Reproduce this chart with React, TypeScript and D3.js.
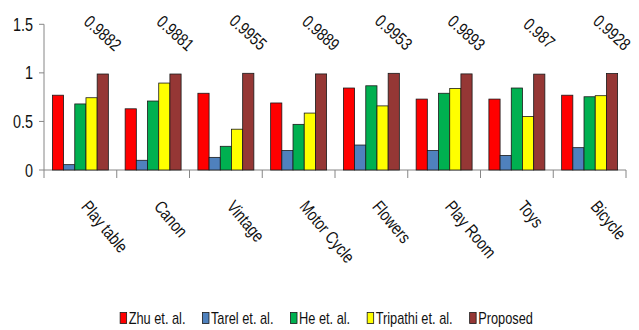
import React, { useEffect, useRef } from "react";
import * as d3 from "d3";

const categories = ["Play table", "Canon", "Vintage", "Motor Cycle", "Flowers", "Play Room", "Toys", "Bicycle"];
const seriesNames = ["Zhu et. al.", "Tarel et. al.", "He et. al.", "Tripathi et. al.", "Proposed"];
const seriesColors = ["#FF0000", "#4F81BD", "#00B050", "#FFFF00", "#953735"];

const zhu = [0.77, 0.63, 0.79, 0.69, 0.844, 0.73, 0.73, 0.77];
const tarel = [0.055, 0.1, 0.13, 0.2, 0.257, 0.2, 0.15, 0.23];
const he = [0.68, 0.71, 0.244, 0.47, 0.867, 0.79, 0.844, 0.754];
const tripathi = [0.744, 0.895, 0.42, 0.586, 0.66, 0.84, 0.55, 0.765];
const proposed = [0.9882, 0.9881, 0.9955, 0.9889, 0.9953, 0.9893, 0.987, 0.9928];

const yTicks = [0, 0.5, 1, 1.5];
const yTickLabels = ["0", "0.5", "1", "1.5"];

const W = 639;
const H = 330;
const FONT = "'Liberation Sans', Arial, sans-serif";
// horizontal squeeze that gives the narrow lettering
const NARROW = 0.8;

export default function App() {
  const ref = useRef<SVGSVGElement | null>(null);

  useEffect(() => {
    const svg = d3.select(ref.current);
    svg.selectAll("*").remove();

    const series = [zhu, tarel, he, tripathi, proposed];
    const left = 44;
    const right = 626;
    const top = 24.3;
    const bottom = 170;

    const x0 = d3.scaleBand<string>().domain(categories).range([left, right]).paddingInner(0).paddingOuter(0);
    const x1 = d3.scaleBand<string>().domain(seriesNames).range([0, x0.bandwidth()]).paddingInner(0).paddingOuter(0.75);
    const y = d3.scaleLinear().domain([0, 1.5]).range([bottom, top]);

    const axisColor = "#868686";
    const textColor = "#111";

    const label = (x: number, yy: number, angle: number, txt: string, size: number, anchor: string, baseline: string) =>
      svg.append("text")
        .attr("transform", `translate(${x},${yy}) rotate(${angle}) scale(${NARROW},1)`)
        .attr("text-anchor", anchor)
        .attr("dominant-baseline", baseline)
        .attr("font-family", FONT)
        .attr("font-size", size)
        .attr("fill", textColor)
        .text(txt);

    // value axis
    svg.append("line").attr("x1", left).attr("x2", left).attr("y1", y(1.5)).attr("y2", y(0))
      .attr("stroke", axisColor).attr("stroke-width", 1);
    svg.selectAll(".ytick").data(yTicks).enter().append("line")
      .attr("x1", left - 5).attr("x2", left).attr("y1", (d) => y(d)).attr("y2", (d) => y(d))
      .attr("stroke", axisColor);
    yTicks.forEach((d, i) => label(left - 11, y(d), 0, yTickLabels[i], 18, "end", "central"));

    // category axis
    svg.append("line").attr("x1", left).attr("x2", right).attr("y1", y(0)).attr("y2", y(0))
      .attr("stroke", axisColor);
    const boundaries = categories.map((c) => x0(c) as number).concat([right]);
    svg.selectAll(".xtick").data(boundaries).enter().append("line")
      .attr("x1", (d) => d).attr("x2", (d) => d).attr("y1", y(0)).attr("y2", y(0) + 8)
      .attr("stroke", axisColor);

    // bars
    categories.forEach((cat, ci) => {
      const g = svg.append("g").attr("transform", `translate(${x0(cat)},0)`);
      seriesNames.forEach((name, si) => {
        const v = series[si][ci];
        g.append("rect")
          .attr("x", x1(name) as number)
          .attr("y", y(v))
          .attr("width", x1.bandwidth())
          .attr("height", y(0) - y(v))
          .attr("fill", seriesColors[si])
          .attr("stroke", "#1a1a1a")
          .attr("stroke-width", 0.8);
      });
    });

    // value labels for the proposed series
    categories.forEach((cat, ci) => {
      const v = proposed[ci];
      const cx = (x0(cat) as number) + (x1("Proposed") as number) + x1.bandwidth() / 2;
      label(cx, y(v) - 41, 42, String(v), 17.5, "middle", "central");
    });

    // category labels
    categories.forEach((cat) => {
      const cx = (x0(cat) as number) + x0.bandwidth() / 2;
      label(cx, 207, 50, cat, 17.5, "start", "auto");
    });

    // legend
    const legend = svg.append("g");
    let cursor = 0;
    const itemGap = 17;
    seriesNames.forEach((name, si) => {
      const item = legend.append("g").attr("transform", `translate(${cursor},0)`);
      item.append("rect").attr("x", 0).attr("y", -5.5).attr("width", 6.5).attr("height", 11)
        .attr("fill", seriesColors[si]).attr("stroke", "#1a1a1a").attr("stroke-width", 0.8);
      const t = item.append("text")
        .attr("transform", `translate(8.5,0) scale(${NARROW},1)`)
        .attr("dominant-baseline", "central")
        .attr("font-family", FONT).attr("font-size", 16).attr("fill", textColor).text(name);
      const w = (t.node() as SVGTextElement).getComputedTextLength() * NARROW;
      cursor += 8.5 + w + itemGap;
    });
    const total = cursor - itemGap;
    legend.attr("transform", `translate(${326.5 - total / 2},318)`);
  }, []);

  return (
    <svg ref={ref} width={W} height={H} style={{ position: "absolute", left: 0, top: 0, background: "#fff" }} />
  );
}
